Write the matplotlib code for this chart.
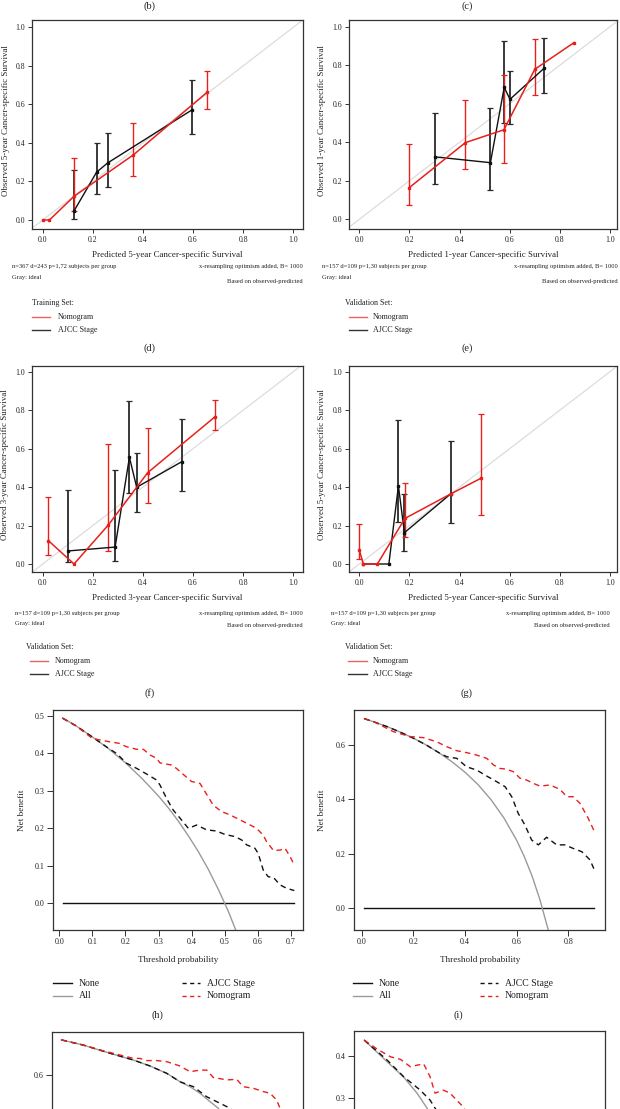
import matplotlib
matplotlib.use('Agg')
import matplotlib.pyplot as plt
from matplotlib.lines import Line2D
import numpy as np

plt.rcParams['font.family'] = ['Liberation Serif', 'DejaVu Serif']

W, H = 620, 1109

# ---------------- DATA ----------------
# calibration (d): training, 5-year
d_nomo_x = [0.0, 0.027, 0.125, 0.362, 0.657]
d_nomo_y = [0.0, 0.0, 0.123, 0.338, 0.664]
d_nomo_lo = [None, None, 0.047, 0.229, 0.577]
d_nomo_hi = [None, None, 0.320, 0.504, 0.775]
d_ajcc_x = [0.125, 0.215, 0.259, 0.594]
d_ajcc_y = [0.047, 0.248, 0.296, 0.570]
d_ajcc_lo = [0.007, 0.137, 0.172, 0.447]
d_ajcc_hi = [0.258, 0.402, 0.449, 0.724]

# calibration (e): validation, 1-year
e_nomo_x = [0.199, 0.423, 0.577, 0.700, 0.856]
e_nomo_y = [0.164, 0.398, 0.465, 0.779, 0.917]
e_nomo_lo = [0.073, 0.260, 0.291, 0.645, None]
e_nomo_hi = [0.391, 0.619, 0.747, 0.938, None]
e_ajcc_x = [0.303, 0.523, 0.578, 0.601, 0.737]
e_ajcc_y = [0.324, 0.294, 0.685, 0.623, 0.784]
e_ajcc_lo = [0.185, 0.152, 0.502, 0.495, 0.654]
e_ajcc_hi = [0.554, 0.580, 0.927, 0.772, 0.943]

# calibration (f): validation, 3-year
f_nomo_x = [0.023, 0.125, 0.262, 0.419, 0.688]
f_nomo_y = [0.121, 0.0, 0.203, 0.475, 0.766]
f_nomo_lo = [0.045, None, 0.068, 0.319, 0.695]
f_nomo_hi = [0.347, None, 0.624, 0.709, 0.853]
f_ajcc_x = [0.102, 0.289, 0.346, 0.375, 0.555]
f_ajcc_y = [0.068, 0.088, 0.555, 0.399, 0.532]
f_ajcc_lo = [0.012, 0.017, 0.367, 0.272, 0.380]
f_ajcc_hi = [0.385, 0.489, 0.847, 0.575, 0.752]

# calibration (g): validation, 5-year
g_nomo_x = [0.0, 0.016, 0.072, 0.182, 0.364, 0.484]
g_nomo_y = [0.073, 0.0, 0.0, 0.237, 0.364, 0.445]
g_nomo_lo = [0.024, None, None, 0.139, None, 0.255]
g_nomo_hi = [0.206, None, None, 0.419, None, 0.778]
g_ajcc_x = [0.016, 0.118, 0.156, 0.180, 0.364]
g_ajcc_y = [0.0, 0.0, 0.406, 0.163, 0.364]
g_ajcc_lo = [None, None, 0.217, 0.069, 0.211]
g_ajcc_hi = [None, None, 0.749, 0.362, 0.638]

# decision curve (h)
h_all_x = [0.01, 0.05, 0.1, 0.15, 0.2, 0.25, 0.3, 0.33, 0.36, 0.39, 0.42, 0.45, 0.48, 0.51, 0.54, 0.57]
h_all_y = [0.495, 0.474, 0.444, 0.412, 0.375, 0.333, 0.286, 0.254, 0.219, 0.180, 0.138, 0.091, 0.038, -0.020, -0.087, -0.163]
h_nomo_x = [0.01, 0.05, 0.1, 0.123, 0.153, 0.181, 0.203, 0.234, 0.254, 0.274, 0.294, 0.304, 0.339, 0.354,
            0.385, 0.40, 0.425, 0.443, 0.465, 0.49, 0.516, 0.536, 0.566, 0.596, 0.616, 0.626, 0.647, 0.667,
            0.682, 0.697, 0.71]
h_nomo_y = [0.494, 0.474, 0.440, 0.436, 0.431, 0.427, 0.418, 0.411, 0.411, 0.396, 0.387, 0.375, 0.369, 0.360,
            0.336, 0.325, 0.320, 0.294, 0.262, 0.245, 0.236, 0.227, 0.214, 0.200, 0.182, 0.165, 0.141, 0.142,
            0.147, 0.125, 0.102]
h_ajcc_x = [0.01, 0.05, 0.1, 0.15, 0.173, 0.203, 0.234, 0.264, 0.294, 0.304, 0.324, 0.344, 0.365, 0.39,
            0.415, 0.445, 0.475, 0.5, 0.531, 0.551, 0.566, 0.591, 0.601, 0.616, 0.631, 0.647, 0.667, 0.687, 0.71]
h_ajcc_y = [0.494, 0.474, 0.444, 0.413, 0.400, 0.374, 0.360, 0.345, 0.329, 0.316, 0.280, 0.249, 0.227, 0.200,
            0.209, 0.196, 0.193, 0.184, 0.178, 0.169, 0.156, 0.147, 0.133, 0.089, 0.071, 0.069, 0.049, 0.040, 0.034]
h_none_x = [0.01, 0.71]
h_none_y = [0.0, 0.0]

# decision curve (i)
i_all_x = [0.01, 0.05, 0.1, 0.15, 0.2, 0.25, 0.3, 0.35, 0.4, 0.45, 0.5, 0.55, 0.6, 0.63, 0.66, 0.69, 0.72, 0.75]
i_all_y = [0.697, 0.684, 0.667, 0.647, 0.625, 0.600, 0.571, 0.538, 0.500, 0.455, 0.400, 0.333, 0.250, 0.189,
           0.118, 0.032, -0.071, -0.200]
i_nomo_x = [0.01, 0.05, 0.123, 0.187, 0.239, 0.29, 0.329, 0.368, 0.406, 0.445, 0.484, 0.51, 0.535, 0.561,
            0.587, 0.613, 0.639, 0.665, 0.69, 0.729, 0.768, 0.794, 0.819, 0.845, 0.877, 0.90]
i_nomo_y = [0.697, 0.684, 0.649, 0.631, 0.627, 0.612, 0.594, 0.579, 0.572, 0.563, 0.551, 0.527, 0.514, 0.511,
            0.502, 0.478, 0.471, 0.459, 0.449, 0.453, 0.437, 0.410, 0.410, 0.386, 0.331, 0.284]
i_ajcc_x = [0.01, 0.05, 0.1, 0.15, 0.2, 0.25, 0.3, 0.329, 0.368, 0.406, 0.445, 0.484, 0.523, 0.555, 0.581,
            0.606, 0.632, 0.658, 0.684, 0.716, 0.755, 0.787, 0.819, 0.852, 0.884, 0.90]
i_ajcc_y = [0.697, 0.684, 0.667, 0.647, 0.625, 0.600, 0.571, 0.557, 0.551, 0.520, 0.508, 0.486, 0.465, 0.447,
            0.410, 0.349, 0.306, 0.251, 0.233, 0.261, 0.233, 0.233, 0.220, 0.208, 0.178, 0.143]
i_none_x = [0.01, 0.90]
i_none_y = [0.0, 0.0]

# decision curve (j) - partially visible
j_all_x = [0.01, 0.094, 0.196, 0.286, 0.35, 0.414, 0.465, 0.503, 0.541, 0.58, 0.611, 0.65]
j_all_y = [0.729, 0.710, 0.680, 0.655, 0.633, 0.606, 0.575, 0.557, 0.533, 0.502, 0.478, 0.42]
j_ajcc_x = [0.01, 0.094, 0.196, 0.286, 0.35, 0.414, 0.465, 0.516, 0.567, 0.618, 0.656, 0.70]
j_ajcc_y = [0.729, 0.710, 0.680, 0.655, 0.633, 0.606, 0.575, 0.557, 0.520, 0.496, 0.478, 0.44]
j_nomo_x = [0.01, 0.094, 0.158, 0.286, 0.311, 0.337, 0.375, 0.414, 0.465, 0.503, 0.541, 0.567, 0.592, 0.644,
            0.682, 0.707, 0.746, 0.784, 0.81, 0.835, 0.848, 0.87]
j_nomo_y = [0.729, 0.710, 0.692, 0.661, 0.661, 0.653, 0.653, 0.649, 0.633, 0.612, 0.618, 0.618, 0.591, 0.582,
            0.584, 0.557, 0.551, 0.539, 0.533, 0.508, 0.478, 0.43]
j_yticks = [0.6]

# decision curve (k) - partially visible
k_all_x = [0.01, 0.099, 0.163, 0.214, 0.253, 0.28]
k_all_y = [0.438, 0.386, 0.349, 0.311, 0.275, 0.24]
k_ajcc_x = [0.01, 0.099, 0.163, 0.227, 0.265, 0.284, 0.31]
k_ajcc_y = [0.438, 0.390, 0.350, 0.318, 0.294, 0.275, 0.25]
k_nomo_x = [0.01, 0.061, 0.112, 0.150, 0.189, 0.214, 0.240, 0.265, 0.284, 0.316, 0.342, 0.368, 0.393, 0.42]
k_nomo_y = [0.438, 0.416, 0.398, 0.392, 0.374, 0.378, 0.381, 0.350, 0.311, 0.318, 0.311, 0.294, 0.278, 0.25]
k_yticks = [0.3, 0.4]

cal_ticks = [0.0, 0.2, 0.4, 0.6, 0.8, 1.0]

# ---------------- FIGURE ----------------
fig = plt.figure(figsize=(W / 100, H / 100), dpi=100)
fig.patch.set_facecolor('white')

RED = '#e8201c'
TXT = '#222222'


def ptext(x, y, s, **kw):
    kw.setdefault('va', 'center')
    kw.setdefault('color', TXT)
    fig.text(x / W, 1 - y / H, s, **kw)


def pline(x1, x2, y, **kw):
    fig.add_artist(Line2D([x1 / W, x2 / W], [1 - y / H, 1 - y / H], transform=fig.transFigure, **kw))


def make_ax(l, t, r, b, xa, ya):
    ax = fig.add_axes([l / W, 1 - b / H, (r - l) / W, (b - t) / H])
    (xv1, xp1), (xv2, xp2) = xa
    sx = (xv2 - xv1) / (xp2 - xp1)
    ax.set_xlim(xv1 + (l - xp1) * sx, xv1 + (r - xp1) * sx)
    (yv1, yp1), (yv2, yp2) = ya
    sy = (yv2 - yv1) / (yp2 - yp1)
    ax.set_ylim(yv1 + (b - yp1) * sy, yv1 + (t - yp1) * sy)
    for sp in ax.spines.values():
        sp.set_linewidth(0.9)
        sp.set_color('#333333')
    ax.tick_params(direction='out', length=3, width=0.7, colors='#333333', pad=2,
                   labelsize=5.6, labelcolor=TXT)
    return ax


def bars(ax, xs, ys, lo, hi, color, lw):
    bx = [x for x, l_ in zip(xs, lo) if l_ is not None]
    by = [y for y, l_ in zip(ys, lo) if l_ is not None]
    bl = [y - l_ for y, l_ in zip(ys, lo) if l_ is not None]
    bh = [h_ - y for y, h_ in zip(ys, hi) if h_ is not None]
    if bx:
        ax.errorbar(bx, by, yerr=[bl, bh], fmt='none', ecolor=color, elinewidth=lw,
                    capsize=2.0, capthick=0.9, zorder=2)


def calib(box, xa, ya, nx, ny, nlo, nhi, axx, ajy, alo, ahi, xlabel, ylabel, ylab_x,
          cap_left, cap_right_x, n_text, cap_y, legend_title, leg_x, leg_line, leg_txt_x, leg_y, tag, tag_x, tag_y):
    l, t, r, b = box
    ax = make_ax(l, t, r, b, xa, ya)
    ax.plot([-1, 2], [-1, 2], color='#dcdcdc', lw=0.9, zorder=1)
    bars(ax, axx, ajy, alo, ahi, '#2a2a2a', 1.3)
    ax.plot(axx, ajy, color='#111111', lw=1.0, marker='s', ms=1.6, zorder=3)
    bars(ax, nx, ny, nlo, nhi, RED, 1.0)
    ax.plot(nx, ny, color=RED, lw=1.1, marker='s', ms=1.6, zorder=4)
    ax.set_xticks(cal_ticks)
    ax.set_yticks(cal_ticks)
    ax.set_xticklabels([f'{v:.1f}' for v in cal_ticks])
    ax.set_yticklabels([f'{v:.1f}' for v in cal_ticks])
    ptext((l + r) / 2, b + 26, xlabel, ha='center', fontsize=6.4)
    ptext(ylab_x, (t + b) / 2 - 4, ylabel, ha='center', rotation=90, fontsize=6.4)
    ptext(cap_left, cap_y[0], n_text, ha='left', fontsize=4.7)
    ptext(cap_left, cap_y[1], 'Gray: ideal', ha='left', fontsize=4.7)
    ptext(cap_right_x, cap_y[0], 'x-resampling optimism added, B= 1000', ha='right', fontsize=4.7)
    ptext(cap_right_x, cap_y[2], 'Based on observed-predicted', ha='right', fontsize=4.7)
    if legend_title:
        ptext(leg_x, leg_y, legend_title, ha='left', fontsize=5.8)
        pline(leg_line[0], leg_line[1], leg_y + 14, color='#f06060', lw=1.0)
        ptext(leg_txt_x, leg_y + 14, 'Nomogram', ha='left', fontsize=5.8)
        pline(leg_line[0], leg_line[1], leg_y + 27, color='#333333', lw=1.0)
        ptext(leg_txt_x, leg_y + 27, 'AJCC Stage', ha='left', fontsize=5.8)
    ptext(tag_x, tag_y, tag, ha='center', fontsize=7.5)
    return ax


# top tags (cut panels above)
ptext(150, 6, '(b)', ha='center', fontsize=7.5)
ptext(467, 6, '(c)', ha='center', fontsize=7.5)

# (d) panel content
calib((32, 20, 303, 229), ((0, 42.7), (1, 293.3)), ((0, 220), (1, 27.3)),
      d_nomo_x, d_nomo_y, d_nomo_lo, d_nomo_hi, d_ajcc_x, d_ajcc_y, d_ajcc_lo, d_ajcc_hi,
      'Predicted 5-year Cancer-specific Survival', 'Observed 5-year Cancer-specific Survival', 6,
      12, 303, 'n=367 d=243 p=1,72 subjects per group', (267, 278, 282),
      'Training Set:', 32, (32, 50), 58, 303, '(d)', 150, 348)

# (e)
calib((349, 20, 617, 229), ((0, 359.3), (1, 610.0)), ((0, 219.3), (1, 26.7)),
      e_nomo_x, e_nomo_y, e_nomo_lo, e_nomo_hi, e_ajcc_x, e_ajcc_y, e_ajcc_lo, e_ajcc_hi,
      'Predicted 1-year Cancer-specific Survival', 'Observed 1-year Cancer-specific Survival', 322,
      322, 618, 'n=157 d=109 p=1,30 subjects per group', (267, 278, 282),
      'Validation Set:', 345, (349, 367), 373, 303, '(e)', 467, 348)

# (f)
calib((32, 366, 303, 572), ((0, 42.7), (1, 293.3)), ((0, 564), (1, 371.7)),
      f_nomo_x, f_nomo_y, f_nomo_lo, f_nomo_hi, f_ajcc_x, f_ajcc_y, f_ajcc_lo, f_ajcc_hi,
      'Predicted 3-year Cancer-specific Survival', 'Observed 3-year Cancer-specific Survival', 5,
      15, 303, 'n=157 d=109 p=1,30 subjects per group', (613, 623, 626),
      'Validation Set:', 26, (30, 48), 55, 647, '(f)', 150, 693)

# (g)
calib((349, 366, 617, 572), ((0, 359.3), (1, 610.0)), ((0, 564), (1, 371.7)),
      g_nomo_x, g_nomo_y, g_nomo_lo, g_nomo_hi, g_ajcc_x, g_ajcc_y, g_ajcc_lo, g_ajcc_hi,
      'Predicted 5-year Cancer-specific Survival', 'Observed 5-year Cancer-specific Survival', 322,
      331, 610, 'n=157 d=109 p=1,30 subjects per group', (613, 623, 626),
      'Validation Set:', 345, (348, 367), 373, 647, '(g)', 467, 693)


def dca(ax, allx, ally, ajx, ajy, nx, ny, nonex=None, noney=None):
    if nonex is not None:
        ax.plot(nonex, noney, color='#111111', lw=1.0, zorder=2)
    ax.plot(allx, ally, color='#9a9a9a', lw=1.0, zorder=2)
    ax.plot(ajx, ajy, color='#111111', lw=1.0, ls=(0, (4, 3)), zorder=3)
    ax.plot(nx, ny, color=RED, lw=1.0, ls=(0, (4, 3)), zorder=4)


def dca_legend(x0, xa0, y):
    pline(x0, x0 + 19, y, color='#111111', lw=1.0)
    ptext(x0 + 26, y, 'None', ha='left', fontsize=7)
    pline(x0, x0 + 19, y + 13, color='#9a9a9a', lw=1.0)
    ptext(x0 + 26, y + 13, 'All', ha='left', fontsize=7)
    pline(xa0, xa0 + 18, y, color='#111111', lw=1.0, ls=(0, (3, 2.5)))
    ptext(xa0 + 25, y, 'AJCC Stage', ha='left', fontsize=7)
    pline(xa0, xa0 + 18, y + 13, color=RED, lw=1.0, ls=(0, (3, 2.5)))
    ptext(xa0 + 25, y + 13, 'Nomogram', ha='left', fontsize=7)


# (h) DCA
axh = make_ax(53, 710, 303, 930, ((0.0, 59.3), (0.7, 291.0)), ((0.0, 903.3), (0.5, 716.0)))
dca(axh, h_all_x, h_all_y, h_ajcc_x, h_ajcc_y, h_nomo_x, h_nomo_y, h_none_x, h_none_y)
h_xt = [0.0, 0.1, 0.2, 0.3, 0.4, 0.5, 0.6, 0.7]
h_yt = [0.0, 0.1, 0.2, 0.3, 0.4, 0.5]
axh.set_xticks(h_xt)
axh.set_xticklabels([f'{v:.1f}' for v in h_xt])
axh.set_yticks(h_yt)
axh.set_yticklabels([f'{v:.1f}' for v in h_yt])
axh.tick_params(labelsize=5.8, length=4)
ptext(178, 960, 'Threshold probability', ha='center', fontsize=6.6)
ptext(22, 810, 'Net benefit', ha='center', rotation=90, fontsize=6.6)
dca_legend(53, 182, 983)
ptext(157, 1015, '(h)', ha='center', fontsize=7.5)

# (i) DCA
axi = make_ax(354, 710, 605, 930, ((0.0, 361.7), (0.8, 568.3)), ((0.0, 908.3), (0.6, 745.0)))
dca(axi, i_all_x, i_all_y, i_ajcc_x, i_ajcc_y, i_nomo_x, i_nomo_y, i_none_x, i_none_y)
i_xt = [0.0, 0.2, 0.4, 0.6, 0.8]
i_yt = [0.0, 0.2, 0.4, 0.6]
axi.set_xticks(i_xt)
axi.set_xticklabels([f'{v:.1f}' for v in i_xt])
axi.set_yticks(i_yt)
axi.set_yticklabels([f'{v:.1f}' for v in i_yt])
axi.tick_params(labelsize=5.8, length=4)
ptext(480, 960, 'Threshold probability', ha='center', fontsize=6.6)
ptext(322, 810, 'Net benefit', ha='center', rotation=90, fontsize=6.6)
dca_legend(353, 480, 983)
ptext(458, 1015, '(i)', ha='center', fontsize=7.5)

# (j) DCA (cut at bottom)
axj = make_ax(52, 1032, 303, 1252, ((0.0, 58.8), (0.8, 267.5)), ((0.6, 1075.0), (0.7, 1047.8)))
dca(axj, j_all_x, j_all_y, j_ajcc_x, j_ajcc_y, j_nomo_x, j_nomo_y)
axj.set_yticks(j_yticks)
axj.set_yticklabels([f'{v:.1f}' for v in j_yticks])
axj.set_xticks([])
axj.tick_params(labelsize=5.8, length=4)

# (k) DCA (cut at bottom)
axk = make_ax(354, 1031, 605, 1251, ((0.0, 361.7), (0.8, 568.3)), ((0.4, 1056.0), (0.3, 1097.7)))
dca(axk, k_all_x, k_all_y, k_ajcc_x, k_ajcc_y, k_nomo_x, k_nomo_y)
axk.set_yticks(k_yticks)
axk.set_yticklabels([f'{v:.1f}' for v in k_yticks])
axk.set_xticks([])
axk.tick_params(labelsize=5.8, length=4)

fig.savefig('out.png', dpi=100, facecolor='white')
